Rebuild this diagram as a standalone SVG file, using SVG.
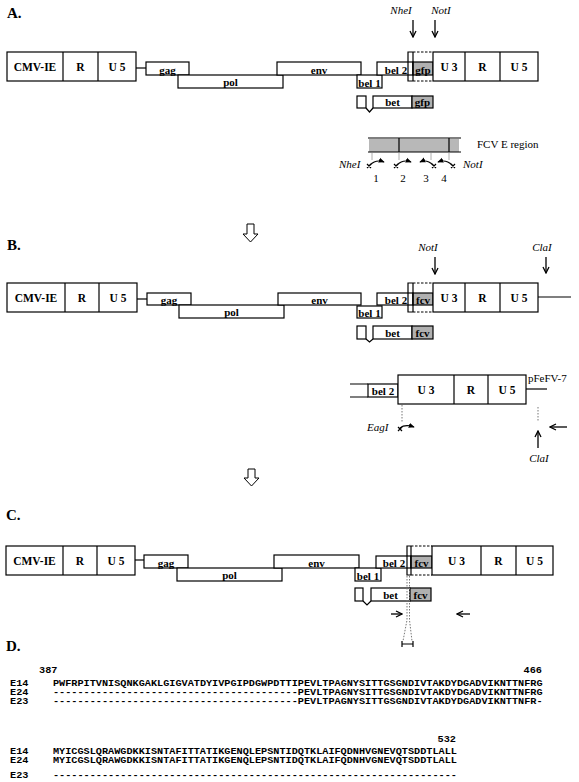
<svg xmlns="http://www.w3.org/2000/svg" width="579" height="782" viewBox="0 0 579 782">
<defs>
<style>
.bx{fill:#fff;stroke:#000;stroke-width:1.2}
.gr{fill:#b0b0b0;stroke:#000;stroke-width:1.2}
.ln{fill:none;stroke:#000;stroke-width:1.2}
.ds{fill:none;stroke:#000;stroke-width:1.2;stroke-dasharray:2.5,1.5}
.dt{fill:none;stroke:#777;stroke-width:1;stroke-dasharray:1.5,1.5}
.tk{fill:none;stroke:#999;stroke-width:0.8}
.ar{fill:none;stroke:#000;stroke-width:1.3;marker-end:url(#v)}
.pr{fill:none;stroke:#000;stroke-width:1.2;marker-end:url(#pv)}
.b{font-family:"Liberation Serif",serif;font-weight:bold;font-size:11.5px;text-anchor:middle}
.s{font-family:"Liberation Serif",serif;font-weight:bold;font-size:11px;text-anchor:middle}
.i{font-family:"Liberation Serif",serif;font-style:italic;font-size:11px}
.r{font-family:"Liberation Serif",serif;font-size:11px}
.p{font-family:"Liberation Serif",serif;font-weight:bold;font-size:15px}
.q{font-family:"Liberation Mono",monospace;font-weight:bold;font-size:8.8px;white-space:pre}
</style>
<marker id="v" viewBox="0 0 8 8" refX="7" refY="4" markerWidth="8" markerHeight="8" markerUnits="userSpaceOnUse" orient="auto"><path d="M1,1 L7,4 L1,7" fill="none" stroke="#000" stroke-width="1.3"/></marker>
<marker id="pv" viewBox="0 0 8 8" refX="7" refY="4" markerWidth="6" markerHeight="6" markerUnits="userSpaceOnUse" orient="auto"><path d="M0,0.5 L8,4 L0,7.5 Z" fill="#000"/></marker>
</defs>

<g id="labels">
<text class="p" x="7" y="18">A.</text>
<text class="p" x="7" y="250">B.</text>
<text class="p" x="6" y="520">C.</text>
<text class="p" x="6" y="651">D.</text>
</g>

<!-- Panel A -->
<g id="A-ltr5">
<rect class="bx" x="7" y="52" width="129" height="29"/>
<line class="ln" x1="63" y1="52" x2="63" y2="81"/>
<line class="ln" x1="98" y1="52" x2="98" y2="81"/>
<text class="b" x="35" y="71">CMV-IE</text>
<text class="b" x="80.5" y="71">R</text>
<text class="b" x="117" y="71">U 5</text>
</g>
<g id="A-gag"><rect class="bx" x="146" y="62" width="43" height="13"/><text class="s" x="167.5" y="73.5">gag</text></g>
<g id="A-pol"><rect class="bx" x="178" y="75" width="105" height="13"/><text class="s" x="230.5" y="86">pol</text></g>
<g id="A-env"><rect class="bx" x="277" y="62" width="84" height="13"/><text class="s" x="319" y="73.5">env</text></g>
<g id="A-bel1"><rect class="bx" x="357" y="75" width="25" height="13"/><text class="s" x="369.5" y="86.5">bel 1</text></g>
<g id="A-bel2"><rect class="bx" x="377" y="62" width="36" height="13"/><text class="s" x="396" y="73.5">bel 2</text></g>
<g id="A-gfp"><rect class="gr" x="413" y="62" width="20" height="13"/><text class="s" x="423" y="73.5">gfp</text></g>
<g id="A-insert">
<path class="ln" d="M413,52 H408 V81 H413 M413,52 V81"/>
<path class="ds" d="M413,52 H433 M413,81 H433"/>
</g>
<g id="A-ltr3">
<rect class="bx" x="433" y="52" width="105" height="29"/>
<line class="ln" x1="465" y1="52" x2="465" y2="81"/>
<line class="ln" x1="500" y1="52" x2="500" y2="81"/>
<text class="b" x="449" y="71">U 3</text>
<text class="b" x="482.5" y="71">R</text>
<text class="b" x="519" y="71">U 5</text>
</g>
<g id="A-bet">
<rect class="bx" x="357" y="96" width="9" height="12"/>
<polyline class="ln" points="366,108 369.5,112 373,108"/>
<rect class="bx" x="373" y="96" width="39" height="12"/>
<rect class="gr" x="412" y="96" width="21" height="12"/>
<text class="s" x="392.5" y="106">bet</text>
<text class="s" x="422.5" y="106">gfp</text>
</g>
<g id="A-sites">
<text class="i" x="401" y="14" text-anchor="middle">NheI</text>
<text class="i" x="441" y="14" text-anchor="middle">NotI</text>
</g>
<g id="A-fcv">
<rect x="369" y="139" width="90" height="13" fill="#b8b8b8"/>
<path class="ln" d="M368,138 H461 M368,152 H461 M399,138 V152 M449,138 V152"/>
<path class="tk" d="M372,153 V160 M399,153 V160 M431,153 V160 M449,153 V160"/>
<text class="r" x="477" y="148">FCV E region</text>
<text class="i" x="339" y="168">NheI</text>
<text class="i" x="463" y="168">NotI</text>
<path class="ln" d="M367,164 l4,4 m0,-4 l-4,4 M394,164 l4,4 m0,-4 l-4,4 M432,164 l4,4 m0,-4 l-4,4 M451,164 l4,4 m0,-4 l-4,4" stroke-width="1"/>
<text class="r" x="376" y="182" text-anchor="middle">1</text>
<text class="r" x="403" y="182" text-anchor="middle">2</text>
<text class="r" x="426" y="182" text-anchor="middle">3</text>
<text class="r" x="444" y="182" text-anchor="middle">4</text>
</g>

<!-- Panel B -->
<g id="B-ltr5">
<rect class="bx" x="7" y="283" width="130" height="29"/>
<line class="ln" x1="65" y1="283" x2="65" y2="312"/>
<line class="ln" x1="99" y1="283" x2="99" y2="312"/>
<text class="b" x="36" y="302">CMV-IE</text>
<text class="b" x="82" y="302">R</text>
<text class="b" x="118" y="302">U 5</text>
</g>
<g id="B-gag"><rect class="bx" x="147" y="293" width="44" height="12"/><text class="s" x="169" y="304">gag</text></g>
<g id="B-pol"><rect class="bx" x="179" y="305" width="105" height="13"/><text class="s" x="231.5" y="316">pol</text></g>
<g id="B-env"><rect class="bx" x="278" y="293" width="83" height="12"/><text class="s" x="319.5" y="304">env</text></g>
<g id="B-bel1"><rect class="bx" x="357" y="306" width="25" height="12"/><text class="s" x="369.5" y="316.5">bel 1</text></g>
<g id="B-bel2"><rect class="bx" x="377" y="293" width="36" height="12"/><text class="s" x="396" y="304">bel 2</text></g>
<g id="B-fcv"><rect class="gr" x="413" y="293" width="20" height="12"/><text class="s" x="423" y="304">fcv</text></g>
<g id="B-insert">
<path class="ln" d="M413,283 H408 V312 H413 M413,283 V312"/>
<path class="ds" d="M413,283 H433 M413,312 H433"/>
</g>
<g id="B-ltr3">
<rect class="bx" x="433" y="283" width="105" height="29"/>
<line class="ln" x1="465" y1="283" x2="465" y2="312"/>
<line class="ln" x1="500" y1="283" x2="500" y2="312"/>
<text class="b" x="449" y="302">U 3</text>
<text class="b" x="482.5" y="302">R</text>
<text class="b" x="519" y="302">U 5</text>
</g>
<g id="B-bet">
<rect class="bx" x="357" y="326" width="9" height="13"/>
<polyline class="ln" points="366,339 369.5,342 373,339"/>
<rect class="bx" x="373" y="326" width="39" height="13"/>
<rect class="gr" x="412" y="326" width="21" height="13"/>
<text class="s" x="392.5" y="336.5">bet</text>
<text class="s" x="422.5" y="336.5">fcv</text>
</g>
<g id="B-sites">
<text class="i" x="428" y="251" text-anchor="middle">NotI</text>
<text class="i" x="542" y="251" text-anchor="middle">ClaI</text>
</g>
<g id="B-pfefv">
<path class="ln" d="M350,384 H368 M350,397 H368"/>
<rect class="bx" x="368" y="384" width="30" height="13"/>
<text class="s" x="383" y="395">bel 2</text>
<rect class="bx" x="398" y="375" width="128" height="29"/>
<line class="ln" x1="454" y1="375" x2="454" y2="404"/>
<line class="ln" x1="488" y1="375" x2="488" y2="404"/>
<text class="b" x="426" y="394">U 3</text>
<text class="b" x="471" y="394">R</text>
<text class="b" x="507" y="394">U 5</text>
<text class="r" x="528" y="382" font-size="11.5">pFeFV-7</text>
<path class="dt" d="M402,405 V423 M538,407 V422"/>
<text class="i" x="367" y="431">EagI</text>
<path class="ln" d="M398,427 l4,4 m0,-4 l-4,4" stroke-width="1"/>
<text class="i" x="539" y="462" text-anchor="middle">ClaI</text>
</g>

<!-- Panel C -->
<g id="C-ltr5">
<rect class="bx" x="6" y="546" width="129" height="29"/>
<line class="ln" x1="63" y1="546" x2="63" y2="575"/>
<line class="ln" x1="97" y1="546" x2="97" y2="575"/>
<text class="b" x="34.5" y="565">CMV-IE</text>
<text class="b" x="80" y="565">R</text>
<text class="b" x="116" y="565">U 5</text>
</g>
<g id="C-gag"><rect class="bx" x="144" y="555" width="44" height="13"/><text class="s" x="166" y="566.5">gag</text></g>
<g id="C-pol"><rect class="bx" x="177" y="568" width="105" height="13"/><text class="s" x="229.5" y="579">pol</text></g>
<g id="C-env"><rect class="bx" x="274" y="555" width="85" height="13"/><text class="s" x="316.5" y="566.5">env</text></g>
<g id="C-bel1"><rect class="bx" x="355" y="568" width="26" height="13"/><text class="s" x="368" y="579.5">bel 1</text></g>
<g id="C-bel2"><rect class="bx" x="376" y="556" width="35" height="12"/><text class="s" x="394" y="567">bel 2</text></g>
<g id="C-fcv"><rect class="gr" x="411" y="556" width="21" height="12"/><text class="s" x="421.5" y="567">fcv</text></g>
<g id="C-insert">
<path class="ln" d="M411,546 H407 V575 H411 M411,546 V575"/>
<path class="ds" d="M411,546 H432 M411,575 H432"/>
</g>
<g id="C-ltr3">
<rect class="bx" x="432" y="546" width="121" height="29"/>
<line class="ln" x1="481" y1="546" x2="481" y2="575"/>
<line class="ln" x1="516" y1="546" x2="516" y2="575"/>
<text class="b" x="456.5" y="565">U 3</text>
<text class="b" x="498.5" y="565">R</text>
<text class="b" x="534.5" y="565">U 5</text>
</g>
<g id="C-bet">
<rect class="bx" x="355" y="588" width="8" height="13"/>
<polyline class="ln" points="363,601 367,605 371,601"/>
<rect class="bx" x="371" y="588" width="39" height="13"/>
<rect class="gr" x="410" y="588" width="21" height="13"/>
<text class="s" x="390.5" y="598.5">bet</text>
<text class="s" x="420.5" y="598.5">fcv</text>
</g>
<g id="C-scale">
<path class="dt" d="M407,576 V620 L403,641 M409.5,576 V620 L412,641"/>
<path class="ln" d="M402,644 H413 M402,641 V647 M413,641 V647" stroke-width="1"/>
</g>

<!-- Connectors -->
<g id="connectors">
<line class="ln" x1="136" y1="68" x2="146" y2="68"/>
<line class="ar" x1="413" y1="20" x2="413" y2="37"/>
<line class="ar" x1="435" y1="20" x2="435" y2="37"/>
<path class="pr" d="M370,165 Q376,159 384,162"/>
<path class="pr" d="M397,165 Q403,159 411,162"/>
<path class="pr" d="M433,165 Q427,159 420,162"/>
<path class="pr" d="M452,165 Q446,159 438,162"/>
<polygon points="247,224 254,224 254,234 258,234 250.5,242 243,234 247,234" fill="#fff" stroke="#000" stroke-width="1"/>
<line class="ln" x1="137" y1="299" x2="147" y2="299"/>
<line class="ln" x1="538" y1="297" x2="571" y2="297"/>
<line class="ar" x1="435" y1="257" x2="435" y2="274"/>
<line class="ar" x1="546" y1="257" x2="546" y2="273"/>
<line class="ln" x1="526" y1="389" x2="547" y2="389"/>
<path class="pr" d="M400,428 Q405,424 414,427"/>
<line class="ar" x1="538" y1="448" x2="538" y2="431"/>
<line class="ar" x1="567" y1="427" x2="550" y2="427"/>
<polygon points="248,469 255,469 255,478 259,478 251.5,486 244,478 248,478" fill="#fff" stroke="#000" stroke-width="1"/>
<line class="ln" x1="135" y1="560" x2="144" y2="560"/>
<line class="ar" x1="391" y1="614" x2="402" y2="614"/>
<line class="ar" x1="470" y1="614" x2="457" y2="614"/>
</g>

<!-- Panel D -->
<g id="D-seq">
<text class="q" x="39" y="673" textLength="18.4" lengthAdjust="spacingAndGlyphs">387</text>
<text class="q" x="523.6" y="673" textLength="18.4" lengthAdjust="spacingAndGlyphs">466</text>
<text class="q" x="10" y="686" textLength="18.4" lengthAdjust="spacingAndGlyphs">E14</text>
<text class="q" x="53" y="686" textLength="489.6" lengthAdjust="spacingAndGlyphs">PWFRPITVNISQNKGAKLGIGVATDYIVPGIPDGWPDTTIPEVLTPAGNYSITTGSGNDIVTAKDYDGADVIKNTTNFRG</text>
<text class="q" x="10" y="695" textLength="18.4" lengthAdjust="spacingAndGlyphs">E24</text>
<text class="q" x="53" y="695" textLength="489.6" lengthAdjust="spacingAndGlyphs">----------------------------------------PEVLTPAGNYSITTGSGNDIVTAKDYDGADVIKNTTNFRG</text>
<text class="q" x="10" y="704" textLength="18.4" lengthAdjust="spacingAndGlyphs">E23</text>
<text class="q" x="53" y="704" textLength="489.6" lengthAdjust="spacingAndGlyphs">----------------------------------------PEVLTPAGNYSITTGSGNDIVTAKDYDGADVIKNTTNFR-</text>
<text class="q" x="437.6" y="742" textLength="18.4" lengthAdjust="spacingAndGlyphs">532</text>
<text class="q" x="10" y="754" textLength="18.4" lengthAdjust="spacingAndGlyphs">E14</text>
<text class="q" x="53" y="754" textLength="403.9" lengthAdjust="spacingAndGlyphs">MYICGSLQRAWGDKKISNTAFITTATIKGENQLEPSNTIDQTKLAIFQDNHVGNEVQTSDDTLALL</text>
<text class="q" x="10" y="763" textLength="18.4" lengthAdjust="spacingAndGlyphs">E24</text>
<text class="q" x="53" y="763" textLength="403.9" lengthAdjust="spacingAndGlyphs">MYICGSLQRAWGDKKISNTAFITTATIKGENQLEPSNTIDQTKLAIFQDNHVGNEVQTSDDTLALL</text>
<text class="q" x="10" y="778" textLength="18.4" lengthAdjust="spacingAndGlyphs">E23</text>
<text class="q" x="53" y="778" textLength="403.9" lengthAdjust="spacingAndGlyphs">------------------------------------------------------------------</text>
</g>
</svg>
